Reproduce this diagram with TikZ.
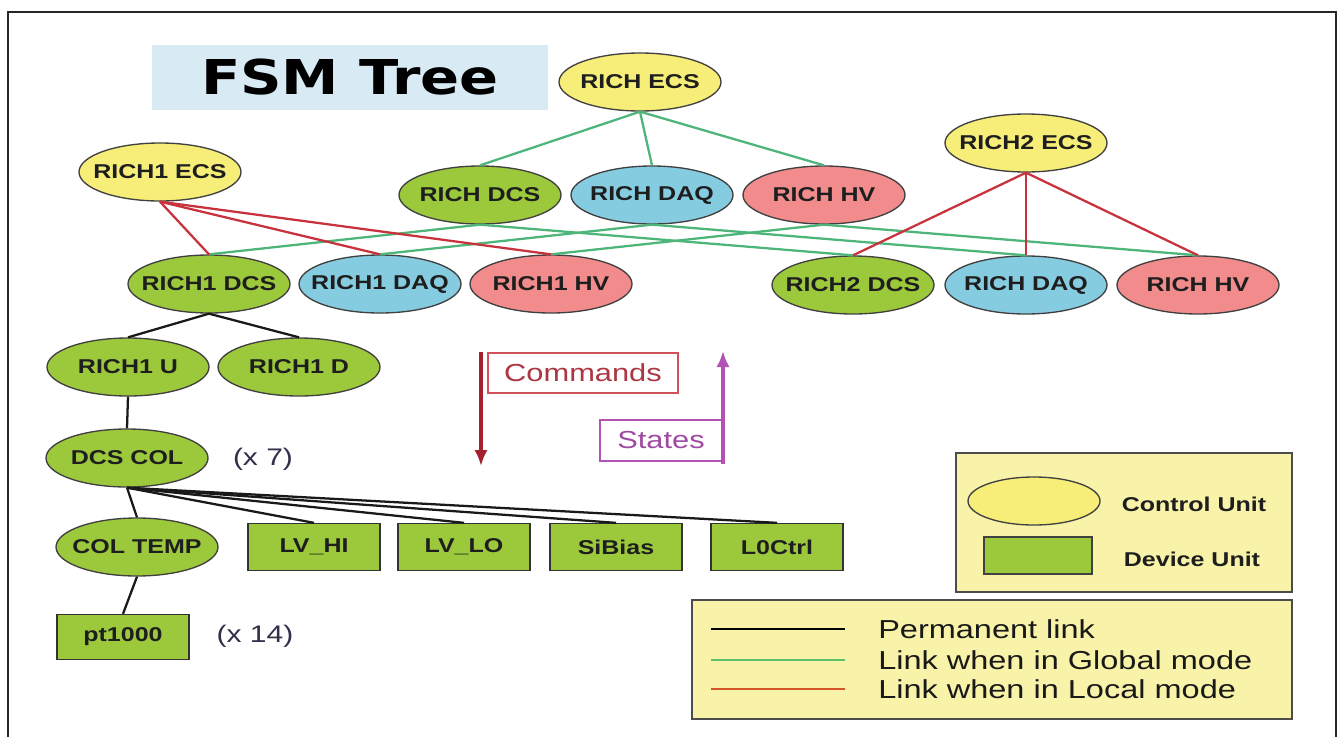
\documentclass[tikz,border=0pt]{standalone}
\usepackage{fontspec}
\setmainfont{Liberation Sans}[FakeStretch=1.25]
\newfontfamily\titlefont{DejaVu Sans}[FakeStretch=1.2]
\usetikzlibrary{shapes.geometric,arrows.meta}
\definecolor{cuyellow}{HTML}{F6EE78}
\definecolor{dugreen}{HTML}{9CC83C}
\definecolor{daqblue}{HTML}{86CCE0}
\definecolor{hvpink}{HTML}{F28C8C}
\definecolor{titleblue}{HTML}{D8EBF5}
\definecolor{legyellow}{HTML}{F8F3A8}
\definecolor{glink}{HTML}{4DB57A}
\definecolor{rlink}{HTML}{C8323C}
\definecolor{cmdred}{HTML}{A3202C}
\definecolor{stpurple}{HTML}{B152B4}
\definecolor{legorange}{HTML}{D2552A}
\definecolor{legline}{HTML}{5CBF6A}
\definecolor{labeltext}{HTML}{1E1E1E}
\definecolor{multtext}{HTML}{30304A}
\newcommand\zw[1]{\makebox[0pt]{#1}}
\begin{document}
\begin{tikzpicture}[x=0.75pt,y=-0.75pt,
  lbl/.style={font=\fontsize{15}{18}\selectfont\bfseries, text=labeltext},
  unit/.style={ellipse, draw=black!75, line width=1pt, minimum width=121.5pt,
    minimum height=43.5pt, inner sep=0pt, lbl},
  cu/.style={unit, fill=cuyellow},
  dcsu/.style={unit, fill=dugreen},
  daqu/.style={unit, fill=daqblue},
  hvu/.style={unit, fill=hvpink},
  dev/.style={rectangle, draw=black!80, line width=1pt, fill=dugreen,
    minimum width=99pt, minimum height=35.25pt, inner sep=0pt, lbl},
  glob/.style={glink, line width=1.7pt},
  locl/.style={rlink, line width=1.7pt},
  perm/.style={black!90, line width=1.7pt},
  mult/.style={font=\fontsize{18}{21}\selectfont, text=multtext},
  legtxt/.style={font=\fontsize{19.5}{22}\selectfont, text=black!90, anchor=west, inner sep=0pt},
  legbox/.style={draw=black!70, line width=1pt, fill=legyellow}
]
\useasboundingbox (0,0) rectangle (1343,736);
% outer frame
\draw[black!85, line width=2.2pt] (8,738) -- (8,12) -- (1336,12) -- (1336,738);

% title
\node[fill=titleblue, minimum width=297pt, minimum height=48.75pt, inner sep=0pt] (title) at (350,77.5)
  {\titlefont\bfseries\fontsize{36}{40}\selectfont FSM Tree};

% control units
\node[cu] (ecs)  at (640,82)  {\zw{RICH ECS}};
\node[cu] (ecs1) at (160,172) {\zw{RICH1 ECS}};
\node[cu] (ecs2) at (1026,143) {\zw{RICH2 ECS}};

% global subsystems
\node[dcsu] (dcs) at (480,195) {\zw{RICH DCS}};
\node[daqu] (daq) at (652,195) {\zw{RICH DAQ}};
\node[hvu]  (hv)  at (824,195) {\zw{RICH HV}};

% RICH1 / RICH2 subsystems
\node[dcsu] (dcs1) at (209,284) {\zw{RICH1 DCS}};
\node[daqu] (daq1) at (380,284) {\zw{RICH1 DAQ}};
\node[hvu]  (hv1)  at (551,284) {\zw{RICH1 HV}};
\node[dcsu] (dcs2) at (853,285) {\zw{RICH2 DCS}};
\node[daqu] (daq2) at (1026,285) {\zw{RICH DAQ}};
\node[hvu]  (hv2)  at (1198,285) {\zw{RICH HV}};

% lower tree
\node[dcsu] (u1)   at (128,367) {\zw{RICH1 U}};
\node[dcsu] (d1)   at (299,367) {\zw{RICH1 D}};
\node[dcsu] (col)  at (127,458) {\zw{DCS COL}};
\node[dcsu] (temp) at (137,547) {\zw{COL TEMP}};
\node[dev] (lvhi) at (314,547) {LV\_HI};
\node[dev] (lvlo) at (464,547) {LV\_LO};
\node[dev] (sib)  at (616,547) {SiBias};
\node[dev] (lzero) at (777,547) {L0Ctrl};
\node[dev, minimum height=33.75pt] (pt) at (123,637) {pt1000};
\node[mult] (x7)  at (263,459) {(x 7)};
\node[mult] (x14) at (255,636) {(x 14)};

% global links
\draw[glob] (ecs.south) -- (dcs.north);
\draw[glob] (ecs.south) -- (daq.north);
\draw[glob] (ecs.south) -- (hv.north);
\draw[glob] (dcs.south) -- (dcs1.north);
\draw[glob] (dcs.south) -- (dcs2.north);
\draw[glob] (daq.south) -- (daq1.north);
\draw[glob] (daq.south) -- (daq2.north);
\draw[glob] (hv.south) -- (hv1.north);
\draw[glob] (hv.south) -- (hv2.north);

% local links
\draw[locl] (ecs1.south) -- (dcs1.north);
\draw[locl] (ecs1.south) -- (daq1.north);
\draw[locl] (ecs1.south) -- (hv1.north);
\draw[locl] (ecs2.south) -- (dcs2.north);
\draw[locl] (ecs2.south) -- (daq2.north);
\draw[locl] (ecs2.south) -- (hv2.north);

% permanent links
\draw[perm] (dcs1.south) -- (u1.north);
\draw[perm] (dcs1.south) -- (d1.north);
\draw[perm] (u1.south) -- (col.north);
\draw[perm] (col.south) -- (temp.north);
\draw[perm] (col.south) -- (lvhi.north);
\draw[perm] (col.south) -- (lvlo.north);
\draw[perm] (col.south) -- (sib.north);
\draw[perm] (col.south) -- (lzero.north);
\draw[perm] (temp.south) -- (pt.north);

% commands / states
\coordinate (cmdtop) at (481,352);
\coordinate (cmdbot) at (481,466);
\draw[cmdred, line width=2.6pt, -{Latex[length=12pt,width=10pt]}] (cmdtop) -- (cmdbot);
\node[draw=rlink!85, line width=0.8pt, minimum width=142.5pt, minimum height=30pt, inner sep=0pt,
  font=\fontsize{18.5}{22}\selectfont, text=cmdred!90] (cmd) at (583,373) {Commands};
\coordinate (sttop) at (723,351);
\coordinate (stbot) at (723,464);
\draw[stpurple, line width=2.6pt, -{Latex[length=12pt,width=10pt]}] (stbot) -- (sttop);
\node[draw=stpurple, line width=0.8pt, minimum width=91.5pt, minimum height=30.75pt, inner sep=0pt,
  font=\fontsize{18.5}{22}\selectfont, text=stpurple!90!black] (st) at (661,440.5) {States};

% legend 1
\node[legbox, minimum width=252pt, minimum height=104.25pt, inner sep=0pt] (leg1) at (1124,522.5) {};
\node[ellipse, draw=black!75, line width=1pt, fill=cuyellow, minimum width=99pt, minimum height=36pt, inner sep=0pt] (legcu) at (1034,501) {};
\node[rectangle, draw=black!75, line width=1pt, fill=dugreen, minimum width=81pt, minimum height=27.75pt, inner sep=0pt] (legdu) at (1038,555.5) {};
\node[lbl] (legcut) at (1194,504) {Control Unit};
\node[lbl] (legdut) at (1192,559) {Device Unit};

% legend 2
\node[legbox, minimum width=450pt, minimum height=89.25pt, inner sep=0pt] (leg2) at (992,659.5) {};
\coordinate (p1) at (711,629); \coordinate (p2) at (845,629);
\coordinate (g1) at (711,660); \coordinate (g2) at (845,660);
\coordinate (r1) at (711,689); \coordinate (r2) at (845,689);
\draw[black, line width=1.8pt] (p1) -- (p2);
\draw[legline, line width=1.8pt] (g1) -- (g2);
\draw[legorange, line width=1.8pt] (r1) -- (r2);
\node[legtxt] (tp) at (878,629) {Permanent link};
\node[legtxt] (tg) at (878,660) {Link when in Global mode};
\node[legtxt] (tr) at (878,689) {Link when in Local mode};
\end{tikzpicture}
\end{document}
